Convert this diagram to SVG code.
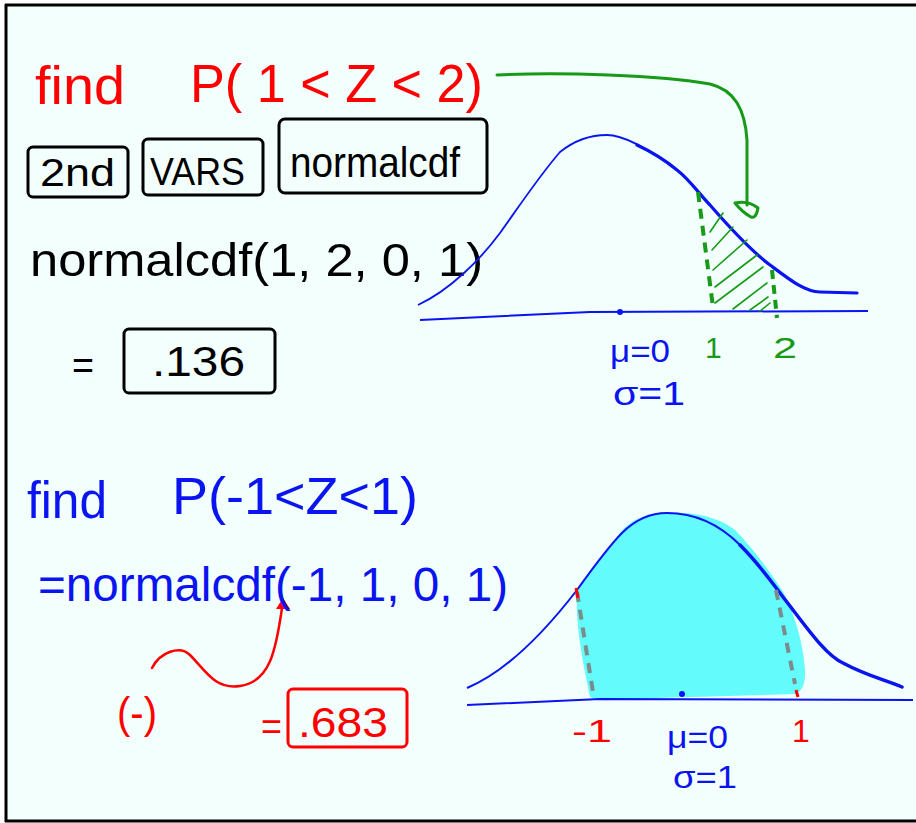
<svg xmlns="http://www.w3.org/2000/svg" width="916" height="823" viewBox="0 0 916 823">
<defs>
<style>
.t{font-family:"Liberation Sans","DejaVu Sans",sans-serif;}
.red{fill:#ff0000;}
.blue{fill:#0a14f0;}
.blk{fill:#000;}
.grn{fill:#179a17;}
.box{fill:none;stroke:#000;stroke-width:3;stroke-linejoin:round;}
.hatch{stroke:#179a17;stroke-width:1.6;fill:none;stroke-linecap:round;}
</style>
</defs>
<rect x="0" y="0" width="916" height="823" fill="#ffffff"/>
<rect x="6" y="5" width="910" height="816" fill="#f2fffc"/>
<g id="frame" stroke="#000" stroke-width="3" fill="none">
<line x1="5" y1="5" x2="916" y2="5"/>
<line x1="6" y1="4" x2="6" y2="822"/>
<line x1="5" y1="821" x2="916" y2="821"/>
</g>

<g id="problem1">
<text class="t red" x="35" y="104" font-size="54" textLength="90" lengthAdjust="spacingAndGlyphs">find</text>
<text class="t red" x="190" y="102" font-size="54" textLength="293" lengthAdjust="spacingAndGlyphs">P( 1 &lt; Z &lt; 2)</text>
</g>

<g id="keys">
<rect class="box" x="28" y="147" width="100" height="50" rx="5"/>
<text class="t blk" x="40" y="186" font-size="38" textLength="75" lengthAdjust="spacingAndGlyphs">2nd</text>
<rect class="box" x="143" y="139" width="120" height="56" rx="5"/>
<text class="t blk" x="150" y="185" font-size="38" textLength="95" lengthAdjust="spacingAndGlyphs">VARS</text>
<rect class="box" x="279" y="119" width="208" height="74" rx="6"/>
<text class="t blk" x="290" y="177" font-size="42" textLength="170" lengthAdjust="spacingAndGlyphs">normalcdf</text>
</g>

<g id="calc1">
<text class="t blk" x="30" y="276" font-size="46" textLength="453" lengthAdjust="spacingAndGlyphs">normalcdf(1, 2, 0, 1)</text>
<text class="t blk" x="72" y="379" font-size="40" textLength="22" lengthAdjust="spacingAndGlyphs">=</text>
<rect class="box" x="124" y="329" width="151" height="64" rx="5"/>
<text class="t blk" x="152" y="376" font-size="42" textLength="93" lengthAdjust="spacingAndGlyphs">.136</text>
</g>

<g id="curve1">
<path d="M420,320 L590,312 L868,311" stroke="#0a14f0" stroke-width="2" fill="none"/>
<path d="M418,305 C450,290 480,260 500,233 C520,205 540,175 560,152 C575,140 590,135 607,135 C625,135 650,150 677,170" stroke="#0a14f0" stroke-width="1.8" fill="none"/>
<path d="M637,145 C652,152 665,160 677,170 C690,180 700,195 710,205 C730,228 750,250 770,265 C790,280 805,292 820,292 L857,293" stroke="#0a14f0" stroke-width="3.2" fill="none" stroke-linecap="round"/>
<circle cx="620" cy="312" r="3" fill="#0a14f0"/>
<g class="hatch">
<path d="M710,232 L723,213"/>
<path d="M712,250 L733,227"/>
<path d="M713,270 L747,240"/>
<path d="M715,287 L757,255"/>
<path d="M715,303 L763,267"/>
<path d="M733,309 L767,283"/>
<path d="M750,310 L768,297"/>
<path d="M760,311 L770,303"/>
</g>
<path d="M698,192 L713,307" stroke="#179a17" stroke-width="4" stroke-dasharray="10 7" fill="none"/>
<path d="M772,270 L777,318" stroke="#179a17" stroke-width="4" stroke-dasharray="9 6" fill="none"/>
<text class="t blue" x="610" y="362" font-size="32" textLength="60" lengthAdjust="spacingAndGlyphs">μ=0</text>
<text class="t blue" x="613" y="405" font-size="34" textLength="72" lengthAdjust="spacingAndGlyphs">σ=1</text>
<text class="t grn" x="705" y="358" font-size="30">1</text>
<text class="t grn" x="773" y="358" font-size="30" textLength="24" lengthAdjust="spacingAndGlyphs">2</text>
</g>

<g id="connectors">
<path d="M497,75 C560,72 660,75 710,84 C735,90 745,110 747,140 L747,205" stroke="#179a17" stroke-width="3" fill="none" stroke-linecap="round"/>
<path d="M735,203 Q748,200 758,208 Q756,219 751,217 Q742,212 735,203 Z" stroke="#179a17" stroke-width="3" fill="none" stroke-linejoin="round"/>
<path d="M152,668 C160,652 180,645 190,655 C205,670 215,690 240,686 C270,682 276,650 282,608" stroke="#ff0000" stroke-width="2.5" fill="none" stroke-linecap="round"/>
<polygon points="276,609 283,598 290,609" fill="#ff0000"/>
</g>

<g id="problem2">
<text class="t blue" x="27" y="518" font-size="52" textLength="80" lengthAdjust="spacingAndGlyphs">find</text>
<text class="t blue" x="172" y="514" font-size="52" textLength="246" lengthAdjust="spacingAndGlyphs">P(-1&lt;Z&lt;1)</text>
<text class="t blue" x="38" y="601" font-size="48" textLength="470" lengthAdjust="spacingAndGlyphs">=normalcdf(-1, 1, 0, 1)</text>
<text class="t red" x="117" y="728" font-size="44" textLength="40" lengthAdjust="spacingAndGlyphs">(-)</text>
<text class="t red" x="261" y="740" font-size="38" textLength="21" lengthAdjust="spacingAndGlyphs">=</text>
<rect x="288" y="689" width="119" height="58" rx="5" fill="none" stroke="#ff0000" stroke-width="3"/>
<text class="t red" x="298" y="737" font-size="42" textLength="90" lengthAdjust="spacingAndGlyphs">.683</text>
</g>

<g id="curve2">
<path d="M577,592 C575,630 585,670 590,697 Q600,702 620,699 L795,694 Q806,690 805,670 C803,640 793,610 782,590 C765,565 750,545 735,530 C715,515 690,512 667,513 C645,513 630,520 620,533 C605,552 590,572 577,592 Z" fill="#63fbfb"/>
<path d="M467,705 L600,699 L913,700" stroke="#0a14f0" stroke-width="2" fill="none"/>
<path d="M467,688 C510,670 550,625 577,590 C595,565 610,545 622,533 C635,520 650,513 667,513 C695,513 720,525 740,545" stroke="#0a14f0" stroke-width="2" fill="none"/>
<path d="M740,545 C760,565 770,580 783,597 C805,625 825,655 843,663 C865,675 885,680 902,687" stroke="#0a14f0" stroke-width="3.5" fill="none" stroke-linecap="round"/>
<path d="M577,592 L593,692" stroke="#7c8c8c" stroke-width="4" stroke-dasharray="10 8" fill="none"/>
<path d="M776,590 L795,684" stroke="#7c8c8c" stroke-width="4" stroke-dasharray="10 8" fill="none"/>
<path d="M576,588 L578,598" stroke="#ff0000" stroke-width="3"/>
<path d="M796,690 L798,697" stroke="#ff0000" stroke-width="3"/>
<circle cx="682" cy="694" r="3" fill="#0a14f0"/>
<text class="t red" x="572" y="742" font-size="32" textLength="40" lengthAdjust="spacingAndGlyphs">-1</text>
<text class="t red" x="792" y="742" font-size="32">1</text>
<text class="t blue" x="667" y="748" font-size="32" textLength="61" lengthAdjust="spacingAndGlyphs">μ=0</text>
<text class="t blue" x="673" y="788" font-size="32" textLength="64" lengthAdjust="spacingAndGlyphs">σ=1</text>
</g>
</svg>
